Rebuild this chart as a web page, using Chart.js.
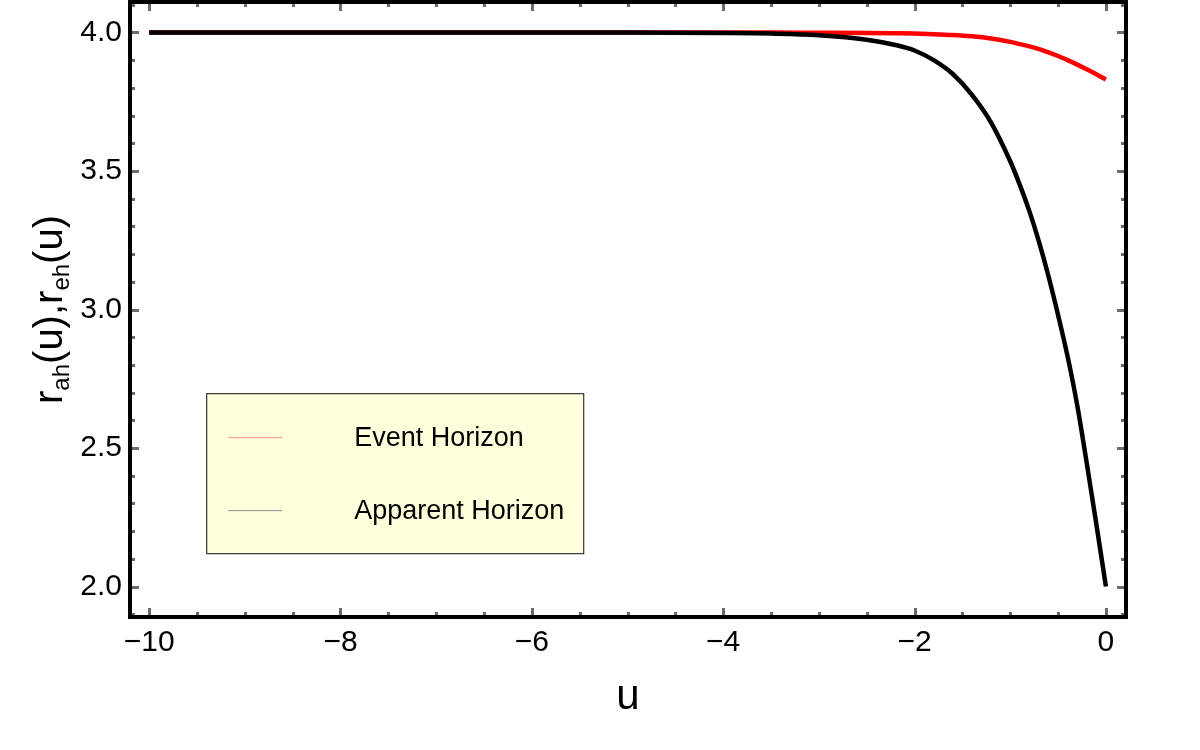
<!DOCTYPE html>
<html>
<head>
<meta charset="utf-8">
<script src="https://cdn.jsdelivr.net/npm/chart.js@4.4.1/dist/chart.umd.min.js"></script>
<style>
  html, body { margin: 0; padding: 0; background: #ffffff; }
  #wrap { width: 1200px; height: 750px; position: relative; }
</style>
</head>
<body>
<div id="wrap"><canvas id="c" width="1200" height="750"></canvas></div>
<script>
// ---- data ----
const uValues = [-10, -8, -6, -5, -4, -3.5, -3, -2.5, -2.2, -2, -1.8, -1.6, -1.4, -1.2, -1, -0.9, -0.8, -0.7, -0.6, -0.5, -0.4, -0.3, -0.2, -0.1, 0];
const eventHorizon = [4.0, 4.0, 4.0, 4.0, 4.0, 4.0, 3.999, 3.998, 3.997, 3.996, 3.994, 3.991, 3.986, 3.978, 3.966, 3.958, 3.95, 3.94, 3.928, 3.915, 3.9, 3.884, 3.867, 3.849, 3.83];
const apparentHorizon = [4.0, 4.0, 4.0, 3.9995, 3.998, 3.996, 3.99, 3.974, 3.955, 3.935, 3.9, 3.85, 3.775, 3.675, 3.535, 3.45, 3.355, 3.245, 3.12, 2.98, 2.83, 2.655, 2.445, 2.225, 2.0];
const seriesNames = ['Event Horizon', 'Apparent Horizon'];
const xTicks = [-10, -8, -6, -4, -2, 0];
const xTickLabels = ['\u221210', '\u22128', '\u22126', '\u22124', '\u22122', '0'];
const yTicks = [2.0, 2.5, 3.0, 3.5, 4.0];
const yTickLabels = ['2.0', '2.5', '3.0', '3.5', '4.0'];
const xMinorStep = 0.5;
const yMinorStep = 0.1;
const xTitle = 'u';

const FONT = '"Liberation Sans", Arial, Helvetica, sans-serif';

function pts(ys) { return uValues.map((u, i) => ({ x: u, y: ys[i] })); }

const framePlugin = {
  id: 'frame',
  afterDatasetsDraw(chart) {
    const { ctx, chartArea: a, scales: { x, y } } = chart;
    ctx.save();
    // minor + major frame ticks (inside, all four sides)
    ctx.strokeStyle = '#6b6b6b';
    ctx.lineWidth = 3;
    ctx.lineCap = 'butt';
    const isMajor = (v, arr) => arr.some(t => Math.abs(t - v) < 1e-6);
    const xs = [];
    for (let k = Math.ceil(x.min / xMinorStep); k * xMinorStep <= x.max + 1e-9; k++) xs.push(k * xMinorStep);
    xs.forEach(v => {
      const px = Math.round(x.getPixelForValue(v)) + 0.5;
      const len = isMajor(v, xTicks) ? 9 : 5;
      ctx.beginPath();
      ctx.moveTo(px, a.bottom); ctx.lineTo(px, a.bottom - len);
      ctx.moveTo(px, a.top); ctx.lineTo(px, a.top + len);
      ctx.stroke();
    });
    const ys = [];
    for (let k = Math.ceil(y.min / yMinorStep - 1e-6); k * yMinorStep <= y.max + 1e-9; k++) ys.push(+(k * yMinorStep).toFixed(4));
    ys.forEach(v => {
      const py = Math.round(y.getPixelForValue(v)) + 0.5;
      const len = isMajor(v, yTicks) ? 9 : 5;
      ctx.beginPath();
      ctx.moveTo(a.left, py); ctx.lineTo(a.left + len, py);
      ctx.moveTo(a.right, py); ctx.lineTo(a.right - len, py);
      ctx.stroke();
    });
    // frame
    ctx.strokeStyle = '#000';
    ctx.lineWidth = 4;
    ctx.strokeRect(a.left, a.top, a.right - a.left, a.bottom - a.top);

    // legend box
    const W = a.right - a.left, H = a.bottom - a.top;
    const lx = a.left + 0.0765 * W, ly = a.top + 0.636 * H;
    const lw = 377, lh = 160;
    ctx.fillStyle = '#ffffdc';
    ctx.fillRect(lx, ly, lw, lh);
    ctx.strokeStyle = '#333';
    ctx.lineWidth = 1.2;
    ctx.strokeRect(lx + 0.5, ly + 0.5, lw, lh);
    const colors = ['#ff9090', '#8a8a8a'];
    const rowY = [ly + 44, ly + 117];
    ctx.font = '27px ' + FONT;
    ctx.textBaseline = 'middle';
    ctx.textAlign = 'left';
    seriesNames.forEach((n, i) => {
      ctx.strokeStyle = colors[i];
      ctx.lineWidth = 1;
      ctx.beginPath();
      ctx.moveTo(lx + 22, rowY[i] + 0.5); ctx.lineTo(lx + 76, rowY[i] + 0.5);
      ctx.stroke();
      ctx.fillStyle = '#000';
      ctx.fillText(n, lx + 148, rowY[i] + 1);
    });
    ctx.restore();
  },
  afterDraw(chart) {
    // y-axis title with subscripts: r_ah(u),r_eh(u)
    const { ctx, chartArea: a } = chart;
    const parts = [
      ['r', 0], ['ah', 1], ['(u),', 0], ['r', 0], ['eh', 1], ['(u)', 0]
    ];
    const mainF = '40px ' + FONT, subF = '24px ' + FONT;
    ctx.save();
    let total = 0;
    parts.forEach(([t, s]) => { ctx.font = s ? subF : mainF; total += ctx.measureText(t).width; });
    const cy = (a.top + a.bottom) / 2;
    ctx.translate(62, cy);
    ctx.rotate(-Math.PI / 2);
    ctx.fillStyle = '#000';
    ctx.textBaseline = 'alphabetic';
    ctx.textAlign = 'left';
    let xpos = -total / 2;
    parts.forEach(([t, s]) => {
      ctx.font = s ? subF : mainF;
      ctx.fillText(t, xpos, s ? 7 : 0);
      xpos += ctx.measureText(t).width;
    });
    ctx.restore();
  }
};

new Chart(document.getElementById('c'), {
  type: 'line',
  data: {
    datasets: [
      { label: seriesNames[0], data: pts(eventHorizon), borderColor: '#ff0000', borderWidth: 4.5,
        pointRadius: 0, cubicInterpolationMode: 'monotone', fill: false, order: 2 },
      { label: seriesNames[1], data: pts(apparentHorizon), borderColor: '#000000', borderWidth: 4.5,
        pointRadius: 0, cubicInterpolationMode: 'monotone', fill: false, order: 1 }
    ]
  },
  options: {
    responsive: false,
    animation: false,
    devicePixelRatio: 1,
    layout: { padding: { left: 0, top: 2, right: 74, bottom: 0 } },
    plugins: { legend: { display: false }, tooltip: { enabled: false }, title: { display: false } },
    scales: {
      x: {
        type: 'linear', min: -10.2, max: 0.21,
        grid: { display: false, drawTicks: false },
        border: { display: false },
        afterBuildTicks: s => { s.ticks = xTicks.map(v => ({ value: v })); },
        afterFit: s => { s.height = 133; s.paddingLeft = 0; s.paddingRight = 0; },
        ticks: {
          padding: 8, color: '#000', maxRotation: 0, autoSkip: false,
          font: { family: FONT, size: 30 },
          callback: v => xTickLabels[xTicks.findIndex(t => Math.abs(t - v) < 1e-9)]
        },
        title: { display: true, text: xTitle, color: '#000', font: { family: FONT, size: 42 }, padding: { top: 0, bottom: 27 } }
      },
      y: {
        type: 'linear', min: 1.89, max: 4.11,
        grid: { display: false, drawTicks: false },
        border: { display: false },
        afterBuildTicks: s => { s.ticks = yTicks.map(v => ({ value: v })); },
        afterFit: s => { s.width = 130; s.paddingTop = 0; s.paddingBottom = 0; },
        ticks: {
          padding: 8, color: '#000', autoSkip: false,
          font: { family: FONT, size: 30 },
          callback: v => yTickLabels[yTicks.findIndex(t => Math.abs(t - v) < 1e-9)]
        }
      }
    }
  },
  plugins: [framePlugin]
});
</script>
</body>
</html>
